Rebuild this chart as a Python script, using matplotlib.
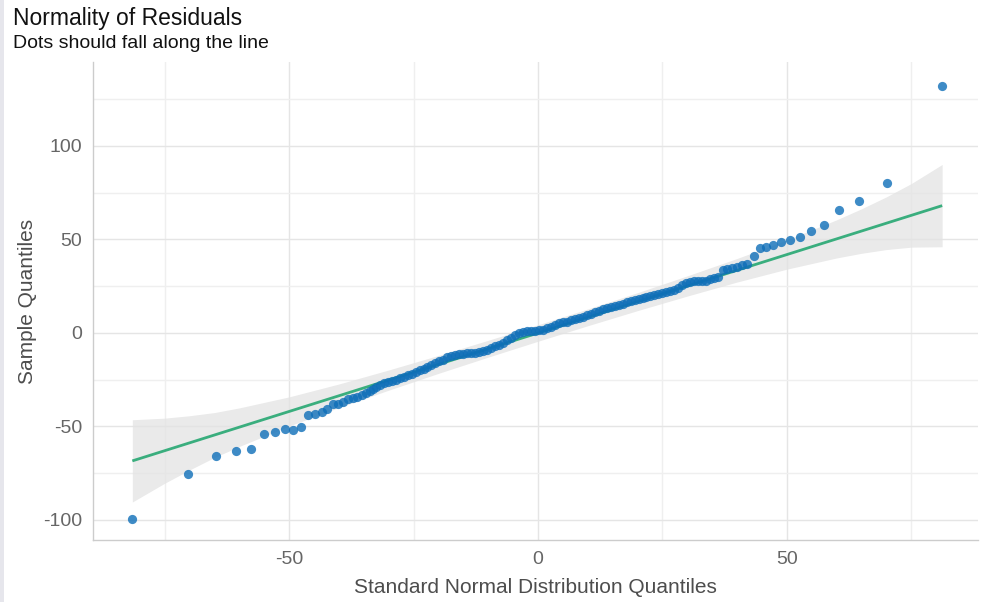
import matplotlib
matplotlib.use("Agg")
import matplotlib.pyplot as plt
from matplotlib.patches import Rectangle
import numpy as np

plt.rcParams['font.family'] = ['Liberation Sans', 'DejaVu Sans']
plt.rcParams['axes.unicode_minus'] = False

# --- data ---
theoretical = [
    -81.5, -70.3, -64.7, -60.6, -57.6, -55.1, -52.8, -50.9, -49.2, -47.6,
    -46.2, -44.7, -43.4, -42.4, -41.2, -40.1, -39.1, -38.1, -37.1, -36.3,
    -35.4, -34.6, -33.8, -33.1, -32.5, -31.8,
    -31.0, -30.2, -29.4, -28.6, -27.8, -27.0, -26.2, -25.4, -24.6, -23.8,
    -23.0, -22.2, -21.4, -20.6, -19.8, -19.0, -18.2, -17.4, -16.6, -15.8,
    -15.0, -14.2, -13.4, -12.6, -11.8, -11.0, -10.2, -9.4, -8.6, -7.8,
    -7.0, -6.2, -5.4, -4.6, -3.8, -3.0, -2.2, -1.4, -0.6, 0.2,
    1.0, 1.8, 2.6, 3.4, 4.2, 5.0, 5.8, 6.6, 7.4, 8.2,
    9.0, 9.8, 10.6, 11.4, 12.2, 13.0, 13.8, 14.6, 15.4, 16.2,
    17.0, 17.8, 18.6, 19.4, 20.2, 21.0, 21.8, 22.6, 23.4, 24.2,
    25.0, 25.8, 26.6, 27.4, 28.2, 29.0, 29.8, 30.6, 31.4, 32.2,
    33.0, 33.8, 34.6, 35.4, 36.2,
    37.1, 38.0, 39.0, 40.0, 41.0, 42.0, 43.3, 44.6, 45.9, 47.3,
    48.9, 50.6, 52.6, 54.8, 57.4, 60.4, 64.5, 70.1, 81.2,
]
sample = [
    -99.6, -75.4, -65.9, -62.9, -62.2, -53.8, -52.8, -51.5, -51.9, -50.1,
    -43.7, -43.5, -42.0, -40.9, -38.2, -38.2, -36.7, -35.3, -34.6, -34.0,
    -33.2, -32.3, -31.0, -29.9, -28.7, -27.6,
    -27.0, -26.3, -25.6, -24.9, -24.1, -23.4, -22.6, -21.8, -21.0, -20.0,
    -19.0, -18.0, -17.0, -16.1, -15.2, -14.2, -13.1, -12.4, -11.8, -11.4,
    -11.1, -10.9, -10.8, -10.6, -10.3, -9.8, -9.0, -8.2, -7.2, -6.2,
    -5.1, -4.0, -2.7, -1.1, -0.1, 0.6, 0.9, 1.1, 1.2, 1.4,
    1.8, 2.4, 3.4, 4.4, 5.2, 5.7, 6.1, 6.8, 7.4, 8.2,
    8.8, 9.5, 10.1, 11.0, 12.0, 12.8, 13.4, 13.9, 14.5, 15.0,
    15.7, 16.3, 17.0, 17.6, 18.0, 18.5, 19.0, 19.6, 20.1, 20.6,
    21.2, 21.7, 22.3, 23.2, 24.3, 25.5, 26.7, 27.3, 27.7, 27.8,
    27.8, 28.0, 28.6, 29.2, 30.0,
    33.7, 34.1, 34.6, 35.1, 36.4, 36.9, 41.3, 45.5, 46.2, 46.9,
    48.8, 49.5, 51.2, 54.7, 57.5, 65.8, 70.5, 80.3, 132.1,
]

# reference line end points
line_x = [-81.5, 81.2]
line_y = [-68.4, 68.1]

# confidence band: x, and half width around the line
band_x = [-81.5, -75, -70, -65, -60, -50, -40, -30, -20, -10, 0,
          10, 20, 30, 40, 50, 60, 65, 70, 75, 81.2]
band_half = [22.0, 17.4, 14.5, 12.0, 10.3, 7.8, 6.3, 5.4, 4.8, 4.5, 4.4,
             4.5, 4.8, 5.4, 6.3, 7.8, 10.2, 11.9, 14.1, 17.0, 22.0]

title = "Normality of Residuals"
subtitle = "Dots should fall along the line"
xlabel = "Standard Normal Distribution Quantiles"
ylabel = "Sample Quantiles"
x_ticks = [-50, 0, 50]
y_ticks = [-100, -50, 0, 50, 100]

# --- drawing ---
fig = plt.figure(figsize=(9.82, 6.02), dpi=100)
fig.patches.append(Rectangle((0, 0), 4 / 982, 1, transform=fig.transFigure,
                             facecolor='#e6e6ec', edgecolor='none', zorder=0))
ax = fig.add_axes([93 / 982, 1 - 540 / 602, (978 - 93) / 982, (540 - 62) / 602])

slope = (line_y[1] - line_y[0]) / (line_x[1] - line_x[0])
bx = np.array(band_x)
centre = line_y[0] + slope * (bx - line_x[0])
bh = np.array(band_half)
ax.fill_between(bx, centre - bh, centre + bh, color='#e3e3e3', alpha=0.75,
                linewidth=0, zorder=1)
ax.plot(line_x, line_y, color='#3aae7e', linewidth=2.0, zorder=2,
        solid_capstyle='butt')
ax.scatter(theoretical, sample, s=44, color='#0e6eb8', alpha=0.8,
           linewidths=0, zorder=3)

ax.set_xlim(-89.4, 88.4)
ax.set_ylim(-110.7, 144.9)
ax.set_xticks(x_ticks)
ax.set_yticks(y_ticks)
ax.set_xticks([-75, -25, 25, 75], minor=True)
ax.set_yticks([-75, -25, 25, 75, 125], minor=True)
ax.grid(True, which='major', color='#e5e5e5', linewidth=1.0)
ax.grid(True, which='minor', color='#efefef', linewidth=1.0)
ax.set_axisbelow(True)
ax.tick_params(which='both', length=0, labelsize=14, labelcolor='#666666', pad=8)
for s in ['top', 'right']:
    ax.spines[s].set_visible(False)
for s in ['left', 'bottom']:
    ax.spines[s].set_color('#cccccc')
    ax.spines[s].set_linewidth(1.0)

ax.set_xlabel(xlabel, fontsize=15, color='#4d4d4d', labelpad=7)
ax.set_ylabel(ylabel, fontsize=15, color='#4d4d4d', labelpad=4)

fig.text(13 / 982, 1 - 7 / 602, title, fontsize=16.5, color='#111111',
         ha='left', va='top')
fig.text(13 / 982, 1 - 35 / 602, subtitle, fontsize=14, color='#111111',
         ha='left', va='top')

fig.savefig("out.png", dpi=100)
